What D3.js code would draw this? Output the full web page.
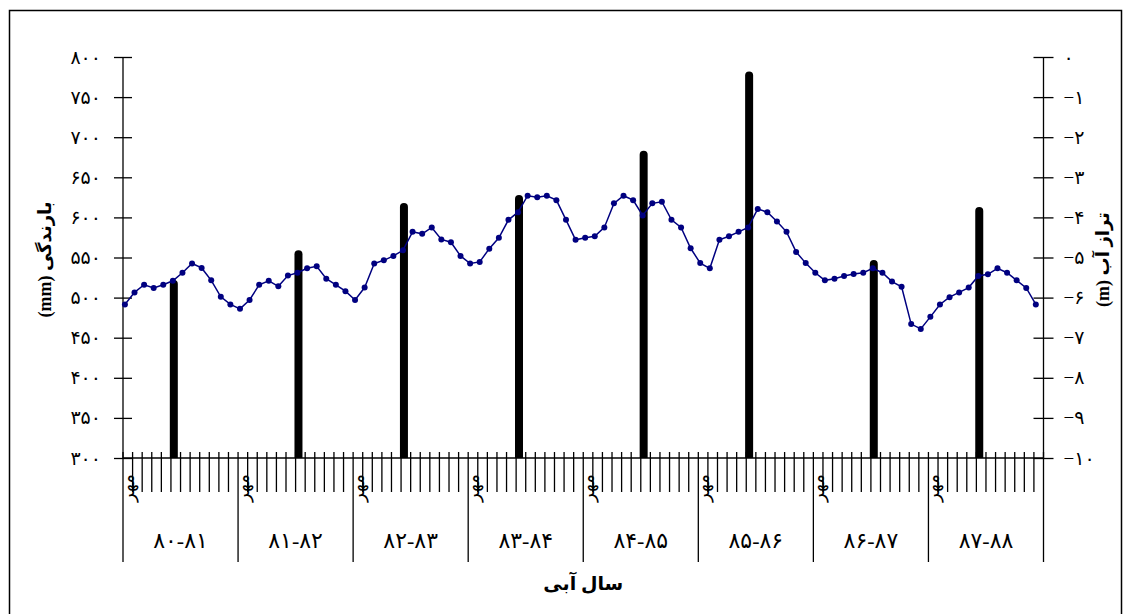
<!DOCTYPE html>
<html>
<head>
<meta charset="utf-8">
<script src="https://cdn.jsdelivr.net/npm/d3@7"></script>
<style>
  body { margin: 0; background: #fff; }
  text { font-family: "Liberation Serif", "DejaVu Sans", serif; fill: #000; }
</style>
</head>
<body>
<div id="chart"></div>
<script>
// سال‌های آبی
const years = ["۸۰-۸۱", "۸۱-۸۲", "۸۲-۸۳", "۸۳-۸۴", "۸۴-۸۵", "۸۵-۸۶", "۸۶-۸۷", "۸۷-۸۸"];
const monthLabel = "مهر";

// تراز آب ماهانه (m) - ۹۶ ماه
const waterLevel = [
  -6.17, -5.87, -5.68, -5.76, -5.68, -5.58, -5.38, -5.15, -5.26, -5.57, -5.98, -6.17,
  -6.28, -6.06, -5.68, -5.58, -5.72, -5.45, -5.38, -5.27, -5.22, -5.53, -5.68, -5.84,
  -6.06, -5.75, -5.15, -5.07, -4.96, -4.82, -4.36, -4.41, -4.25, -4.55, -4.62, -4.96,
  -5.15, -5.11, -4.78, -4.51, -4.06, -3.87, -3.46, -3.50, -3.46, -3.57, -4.06, -4.56,
  -4.51, -4.47, -4.25, -3.65, -3.46, -3.57, -3.95, -3.65, -3.61, -4.06, -4.25, -4.77,
  -5.14, -5.27, -4.56, -4.47, -4.36, -4.25, -3.79, -3.87, -4.10, -4.36, -4.86, -5.14,
  -5.38, -5.57, -5.53, -5.46, -5.41, -5.38, -5.27, -5.38, -5.60, -5.73, -6.66, -6.78,
  -6.48, -6.17, -5.99, -5.87, -5.75, -5.46, -5.42, -5.27, -5.38, -5.57, -5.76, -6.17
];

// بارندگی سالانه (mm) و ماهی که ستون در آن رسم شده
const rainMonth = [5, 18, 29, 41, 54, 65, 78, 89];
const rainfall = [522, 559, 618, 628, 683, 782, 547, 613];

// برچسب محورها
const rainTicks = [300, 350, 400, 450, 500, 550, 600, 650, 700, 750, 800];
const levelTicks = [0, -1, -2, -3, -4, -5, -6, -7, -8, -9, -10];

const width = 1132, height = 614;
const margin = { top: 57, right: 88.5, bottom: 156, left: 123 };
const plotW = width - margin.left - margin.right;
const plotH = height - margin.top - margin.bottom;
const nMonths = waterLevel.length;

// ارقام فارسی
const faDigits = "۰۱۲۳۴۵۶۷۸۹";
const toFa = n => String(n).replace(/-/g, "\u2212").replace(/[0-9]/g, d => faDigits[+d]);

const svg = d3.select("#chart").append("svg")
  .attr("width", width)
  .attr("height", height);

// کادر بیرونی
svg.append("rect")
  .attr("x", 9.5).attr("y", 10.5)
  .attr("width", 1112).attr("height", 640)
  .attr("fill", "none")
  .attr("stroke", "#000")
  .attr("stroke-width", 1.5);

const g = svg.append("g")
  .attr("transform", `translate(${margin.left},${margin.top})`);

const x = d3.scaleLinear().domain([0, nMonths]).range([0, plotW]);
const yRain = d3.scaleLinear().domain([300, 800]).range([plotH, 0]);
const yLevel = d3.scaleLinear().domain([-10, 0]).range([plotH, 0]);

// محور چپ
const leftAxis = g.append("g")
  .call(d3.axisLeft(yRain).tickValues(rainTicks).tickFormat(toFa).tickSize(9).tickPadding(13));
leftAxis.selectAll(".tick line").attr("x2", -9).attr("x1", 9).attr("stroke-width", 1.3);
leftAxis.select(".domain").attr("stroke-width", 1.3).attr("d", `M0,0V${plotH}`);
leftAxis.selectAll("text").style("font-size", "19px");

// محور راست
const rightAxis = g.append("g")
  .attr("transform", `translate(${plotW},0)`)
  .call(d3.axisRight(yLevel).tickValues(levelTicks).tickFormat(toFa).tickSize(10).tickPadding(10));
rightAxis.selectAll(".tick line").attr("x1", -10).attr("stroke-width", 1.3);
rightAxis.select(".domain").attr("stroke-width", 1.3).attr("d", `M0,0V${plotH}`);
rightAxis.selectAll("text").style("font-size", "19px");

// ستون‌های بارندگی
const barW = 8;
g.selectAll(".bar")
  .data(rainfall)
  .enter()
  .append("path")
  .attr("class", "bar")
  .attr("fill", "#000")
  .attr("d", (d, i) => {
    const cx = x(rainMonth[i] + 0.3), top = yRain(d), r = barW / 2;
    const p = d3.path();
    p.moveTo(cx - r, plotH);
    p.lineTo(cx - r, top + r);
    p.arc(cx, top + r, r, Math.PI, 0);
    p.lineTo(cx + r, plotH);
    p.closePath();
    return p.toString();
  });

// محور افقی ماهانه
const xAxis = g.append("g").attr("class", "x-axis");
xAxis.append("line")
  .attr("x1", 0).attr("x2", plotW)
  .attr("y1", plotH).attr("y2", plotH)
  .attr("stroke", "#000").attr("stroke-width", 1.3);

const monthTicks = d3.range(1, nMonths).filter(k => k % 12 !== 0);
xAxis.selectAll(".mtick")
  .data(monthTicks)
  .enter()
  .append("line")
  .attr("x1", d => x(d)).attr("x2", d => x(d))
  .attr("y1", plotH - 6).attr("y2", plotH + 34)
  .attr("stroke", "#000").attr("stroke-width", 1.3);

xAxis.selectAll(".ytick")
  .data(d3.range(0, nMonths + 1, 12))
  .enter()
  .append("line")
  .attr("x1", d => x(d)).attr("x2", d => x(d))
  .attr("y1", plotH - 6).attr("y2", plotH + 104)
  .attr("stroke", "#000").attr("stroke-width", 1.3);

// برچسب ماه اول هر سال
xAxis.selectAll(".mlabel")
  .data(years)
  .enter()
  .append("text")
  .attr("transform", (d, i) => `translate(${x(i * 12 + 0.5) + 6},${plotH + 30}) rotate(-90)`)
  .attr("direction", "rtl")
  .attr("text-anchor", "middle")
  .style("font-size", "18px")
  .text(monthLabel);

// برچسب سال‌ها
xAxis.selectAll(".ylabel")
  .data(years)
  .enter()
  .append("text")
  .attr("x", (d, i) => x(i * 12 + 6))
  .attr("y", plotH + 90)
  .attr("text-anchor", "middle")
  .style("font-size", "22px")
  .text(d => d);

// خط تراز آب
const line = d3.line()
  .x((d, i) => x(i + 0.2))
  .y(d => yLevel(d));

g.append("path")
  .datum(waterLevel)
  .attr("fill", "none")
  .attr("stroke", "#000080")
  .attr("stroke-width", 1.5)
  .attr("d", line);

g.selectAll(".dot")
  .data(waterLevel)
  .enter()
  .append("circle")
  .attr("cx", (d, i) => x(i + 0.2))
  .attr("cy", d => yLevel(d))
  .attr("r", 3)
  .attr("fill", "#000080");

// عنوان محورها
svg.append("text")
  .attr("transform", `translate(51,${margin.top + plotH / 2 + 2}) rotate(-90)`)
  .attr("direction", "rtl")
  .attr("text-anchor", "middle")
  .style("font-size", "18px")
  .style("font-weight", "bold")
  .text("بارندگی (mm)");

svg.append("text")
  .attr("transform", `translate(1109,${margin.top + plotH / 2 + 2}) rotate(-90)`)
  .attr("direction", "rtl")
  .attr("text-anchor", "middle")
  .style("font-size", "18px")
  .style("font-weight", "bold")
  .text("تراز آب (m)");

svg.append("text")
  .attr("x", margin.left + plotW / 2)
  .attr("y", 590)
  .attr("direction", "rtl")
  .attr("text-anchor", "middle")
  .style("font-size", "19px")
  .style("font-weight", "bold")
  .text("سال آبی");
</script>
</body>
</html>
